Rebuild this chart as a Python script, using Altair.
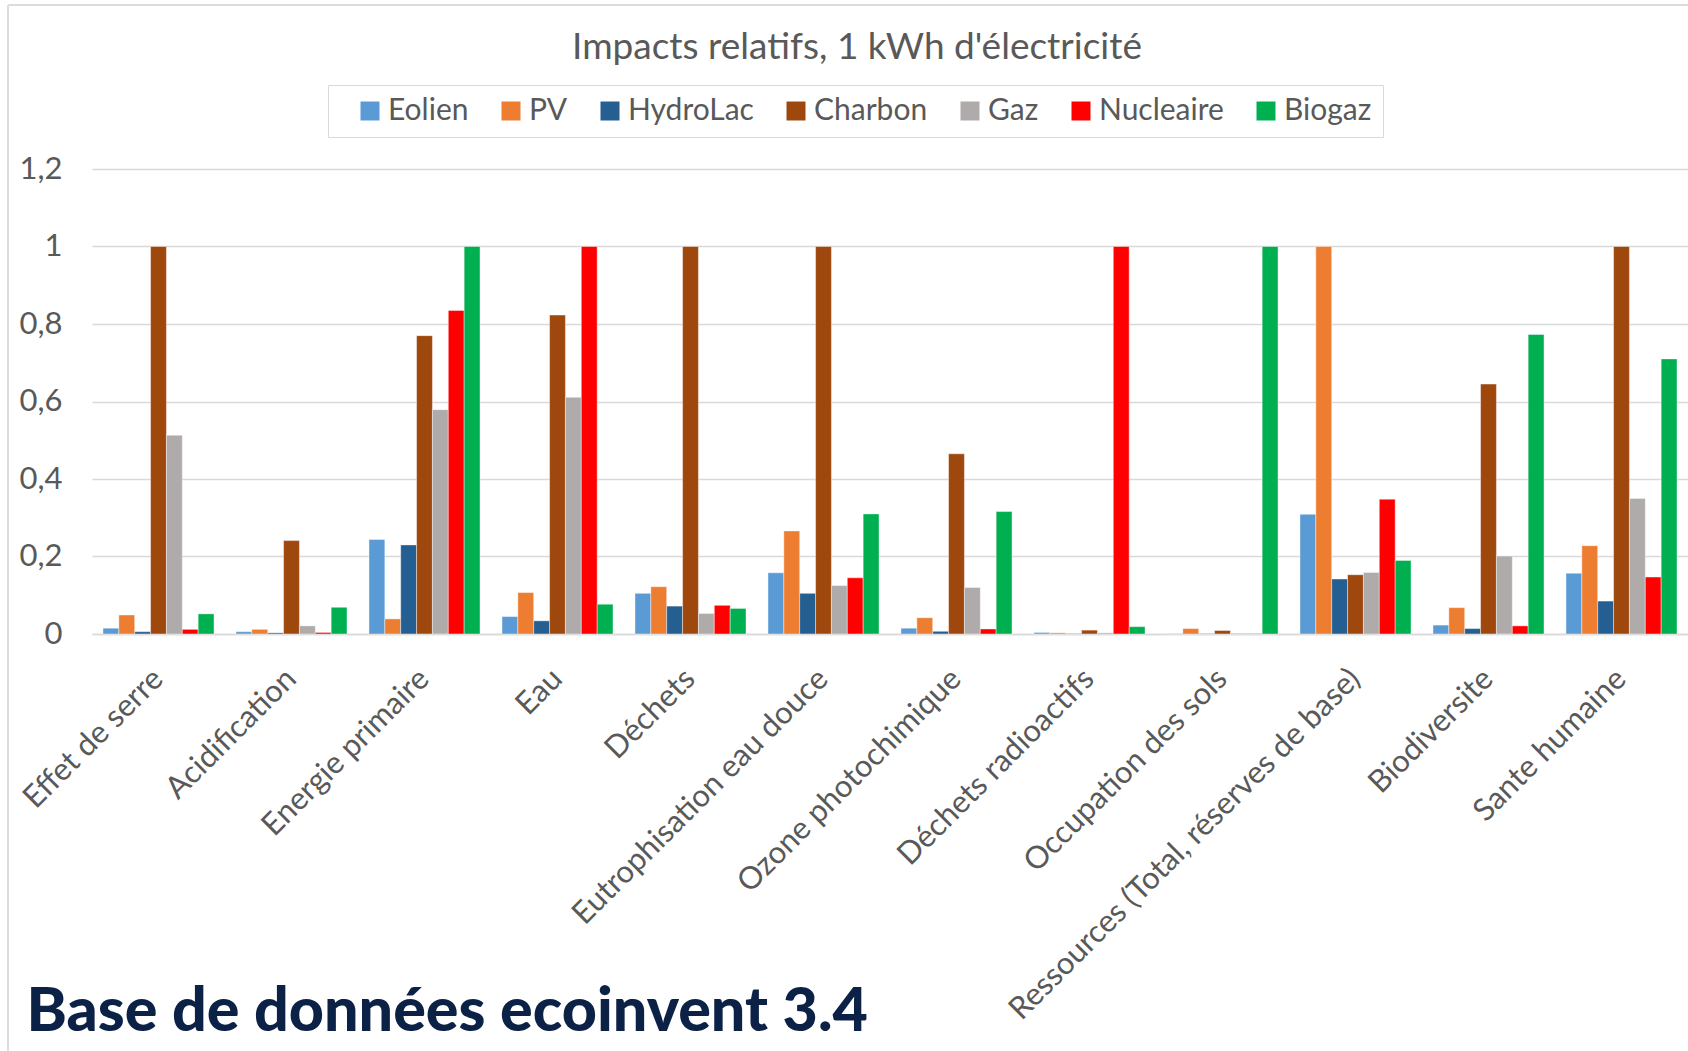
import altair as alt
import pandas as pd

# Impact categories (x axis) and electricity sources (series)
categories = [
    "Effet de serre", "Acidification", "Energie primaire", "Eau", "Déchets",
    "Eutrophisation eau douce", "Ozone photochimique", "Déchets radioactifs",
    "Occupation des sols", "Ressources (Total, réserves de base)",
    "Biodiversite", "Sante humaine",
]
sources = ["Eolien", "PV", "HydroLac", "Charbon", "Gaz", "Nucleaire", "Biogaz"]
colors = ["#5b9bd5", "#ed7d31", "#255e91", "#9e480e", "#afabab", "#ff0000", "#00b050"]

# Relative impacts per kWh (max of each category = 1)
eolien = [0.015, 0.006, 0.244, 0.045, 0.105, 0.158, 0.015, 0.004, 0.001, 0.309, 0.023, 0.157]
pv = [0.049, 0.012, 0.039, 0.107, 0.122, 0.266, 0.042, 0.003, 0.014, 1.0, 0.068, 0.228]
hydrolac = [0.006, 0.003, 0.230, 0.034, 0.072, 0.105, 0.007, 0.001, 0.001, 0.142, 0.014, 0.085]
charbon = [1.0, 0.241, 0.770, 0.823, 1.0, 1.0, 0.465, 0.010, 0.009, 0.153, 0.645, 1.0]
gaz = [0.513, 0.021, 0.579, 0.611, 0.053, 0.125, 0.120, 0.003, 0.002, 0.159, 0.201, 0.350]
nucleaire = [0.012, 0.004, 0.835, 1.0, 0.074, 0.145, 0.013, 1.0, 0.001, 0.348, 0.021, 0.147]
biogaz = [0.052, 0.069, 1.0, 0.077, 0.066, 0.310, 0.316, 0.019, 1.0, 0.190, 0.773, 0.710]

y_ticks = [0, 0.2, 0.4, 0.6, 0.8, 1.0, 1.2]

series = [eolien, pv, hydrolac, charbon, gaz, nucleaire, biogaz]
rows = []
for src, vals in zip(sources, series):
    for cat, v in zip(categories, vals):
        rows.append({"categorie": cat, "source": src, "valeur": v})
df = pd.DataFrame(rows)

FONT = "Lato"
GREY = "#595959"
FRAME = "#dcdcdc"
W, H = 1596, 465
LEFT, TOP = 92, 169
TOTAL_H = 1051

bars = alt.Chart(df).mark_bar(stroke="#ffffff", strokeWidth=0.6, strokeOpacity=0.7).encode(
    x=alt.X(
        "categorie:N",
        sort=categories,
        scale=alt.Scale(paddingInner=0.165, paddingOuter=0.0825),
        axis=alt.Axis(
            title="Base de données ecoinvent 3.4",
            titleFont=FONT,
            titleFontSize=61,
            titleFontWeight=900,
            titleColor="#0c2146",
            titleAnchor="start",
            titleAlign="left",
            titleBaseline="alphabetic",
            titleX=-66,
            titleY=396,
            labelAngle=-45,
            labelAlign="right",
            labelBaseline="middle",
            labelPadding=40,
            labelFont=FONT,
            labelFontSize=31,
            labelColor=GREY,
            labelLimit=700,
            ticks=False,
            domainColor="#d9d9d9",
            domainWidth=1.5,
        ),
    ),
    xOffset=alt.XOffset("source:N", sort=sources, scale=alt.Scale(paddingInner=0, paddingOuter=0)),
    y=alt.Y(
        "valeur:Q",
        scale=alt.Scale(domain=[0, 1.2], nice=False),
        axis=alt.Axis(
            title=None,
            values=y_ticks,
            labelExpr="replace(format(datum.value, '~g'), '.', ',')",
            labelFont=FONT,
            labelFontSize=31,
            labelColor=GREY,
            labelPadding=30,
            ticks=False,
            domain=False,
            gridColor="#d9d9d9",
            gridWidth=1.5,
        ),
    ),
    color=alt.Color(
        "source:N",
        sort=sources,
        scale=alt.Scale(domain=sources, range=colors),
        legend=alt.Legend(
            title=None,
            orient="none",
            direction="horizontal",
            columns=7,
            legendX=236,
            legendY=-84,
            padding=11,
            strokeColor="#d9d9d9",
            fillColor="#ffffff",
            symbolType="square",
            symbolSize=361,
            symbolStrokeWidth=0,
            symbolOffset=16,
            labelFont=FONT,
            labelFontSize=30,
            labelColor=GREY,
            labelOffset=3,
            columnPadding=11,
        ),
    ),
)

# Light outer frame (top and left edges)
frame_src = pd.DataFrame({"k": [0]})
frame_left = alt.Chart(frame_src).mark_rule(color=FRAME, strokeWidth=2).encode(
    x=alt.value(8 - LEFT), y=alt.value(5 - TOP), y2=alt.value(TOTAL_H - TOP)
)
frame_top = alt.Chart(frame_src).mark_rule(color=FRAME, strokeWidth=2).encode(
    x=alt.value(8 - LEFT), x2=alt.value(W), y=alt.value(5 - TOP)
)

chart = alt.layer(bars, frame_left, frame_top).properties(
    width=W,
    height=H,
    title=alt.TitleParams(
        "Impacts relatifs, 1 kWh d'électricité",
        font=FONT,
        fontSize=37,
        fontWeight="normal",
        color=GREY,
        anchor="middle",
        frame="group",
        dx=-33,
        dy=85,
        offset=22,
    ),
    background="#ffffff",
    autosize=alt.AutoSizeParams(type="none"),
    padding={"left": LEFT, "top": TOP, "right": 0, "bottom": TOTAL_H - TOP - H},
).configure_view(stroke=None)

chart.save("out.html", embed_options={"renderer": "svg", "actions": False})
